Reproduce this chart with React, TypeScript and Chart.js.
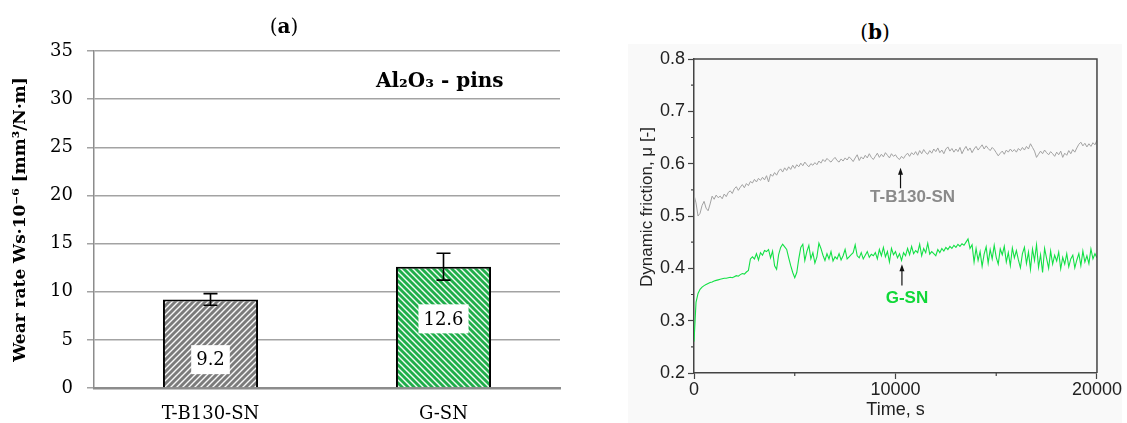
import React, { useEffect, useRef } from 'react';
import { Chart, registerables } from 'chart.js';

Chart.register(...registerables);

// ---------- Panel (a): wear rate ----------
const wearCategories = ['T-B130-SN', 'G-SN'];
const wearValues = [9.2, 12.6];
const wearErrors = [0.6, 1.4];
const wearLabelFractions = [0.32, 0.57];
const wearTitle = 'Wear rate Ws·10⁻⁶ [mm³/N·m]';
const wearNote = 'Al₂O₃ - pins';

// ---------- Panel (b): dynamic friction vs time ----------
const timeS = [
  0, 100, 200, 300, 400, 500, 600, 700, 800, 900,
  1000, 1100, 1200, 1300, 1400, 1500, 1600, 1700, 1800, 1900,
  2000, 2100, 2200, 2300, 2400, 2500, 2600, 2700, 2800, 2900,
  3000, 3100, 3200, 3300, 3400, 3500, 3600, 3700, 3800, 3900,
  4000, 4100, 4200, 4300, 4400, 4500, 4600, 4700, 4800, 4900,
  5000, 5100, 5200, 5300, 5400, 5500, 5600, 5700, 5800, 5900,
  6000, 6100, 6200, 6300, 6400, 6500, 6600, 6700, 6800, 6900,
  7000, 7100, 7200, 7300, 7400, 7500, 7600, 7700, 7800, 7900,
  8000, 8100, 8200, 8300, 8400, 8500, 8600, 8700, 8800, 8900,
  9000, 9100, 9200, 9300, 9400, 9500, 9600, 9700, 9800, 9900,
  10000, 10100, 10200, 10300, 10400, 10500, 10600, 10700, 10800, 10900,
  11000, 11100, 11200, 11300, 11400, 11500, 11600, 11700, 11800, 11900,
  12000, 12100, 12200, 12300, 12400, 12500, 12600, 12700, 12800, 12900,
  13000, 13100, 13200, 13300, 13400, 13500, 13600, 13700, 13800, 13900,
  14000, 14100, 14200, 14300, 14400, 14500, 14600, 14700, 14800, 14900,
  15000, 15100, 15200, 15300, 15400, 15500, 15600, 15700, 15800, 15900,
  16000, 16100, 16200, 16300, 16400, 16500, 16600, 16700, 16800, 16900,
  17000, 17100, 17200, 17300, 17400, 17500, 17600, 17700, 17800, 17900,
  18000, 18100, 18200, 18300, 18400, 18500, 18600, 18700, 18800, 18900,
  19000, 19100, 19200, 19300, 19400, 19500, 19600, 19700, 19800, 19900,
  20000,
];

const frictionTB130SN = [
  0.540, 0.525, 0.500, 0.505, 0.520, 0.528, 0.515, 0.510, 0.523, 0.538,
  0.532, 0.540, 0.535, 0.538, 0.533, 0.542, 0.537, 0.545, 0.548, 0.543,
  0.552, 0.556, 0.549, 0.555, 0.560, 0.554, 0.562, 0.558, 0.566, 0.563,
  0.570, 0.565, 0.572, 0.568, 0.574, 0.569, 0.577, 0.565, 0.580, 0.576,
  0.583, 0.578, 0.586, 0.590, 0.584, 0.592, 0.587, 0.594, 0.589, 0.597,
  0.591, 0.598, 0.594, 0.601, 0.596, 0.603, 0.598, 0.594, 0.600, 0.597,
  0.602, 0.598, 0.605, 0.601, 0.608, 0.604, 0.610, 0.606, 0.603, 0.608,
  0.612, 0.606, 0.603, 0.609, 0.605, 0.611, 0.607, 0.613, 0.609, 0.604,
  0.611, 0.617, 0.606, 0.613, 0.609, 0.616, 0.611, 0.619, 0.612, 0.608,
  0.614, 0.620, 0.612, 0.618, 0.613, 0.621, 0.616, 0.611, 0.619, 0.614,
  0.617, 0.611, 0.608, 0.614, 0.610, 0.616, 0.620, 0.614, 0.621, 0.617,
  0.623, 0.616, 0.625, 0.619, 0.627, 0.621, 0.618, 0.625, 0.620, 0.628,
  0.623, 0.630, 0.621, 0.626, 0.619, 0.628, 0.632, 0.624, 0.629, 0.622,
  0.628, 0.623, 0.631, 0.619, 0.627, 0.633, 0.625, 0.630, 0.621, 0.628,
  0.633, 0.626, 0.631, 0.636, 0.628, 0.634, 0.629, 0.625, 0.631, 0.627,
  0.621, 0.615, 0.620, 0.624, 0.618, 0.626, 0.622, 0.628, 0.623, 0.627,
  0.622, 0.629, 0.625, 0.631, 0.626, 0.633, 0.628, 0.638, 0.631, 0.624,
  0.612, 0.618, 0.624, 0.619, 0.626, 0.621, 0.617, 0.623, 0.619, 0.614,
  0.622, 0.617, 0.624, 0.612, 0.620, 0.616, 0.625, 0.619, 0.627, 0.622,
  0.630, 0.637, 0.641, 0.634, 0.639, 0.632, 0.638, 0.633, 0.640, 0.636,
  0.645,
];

const frictionGSN = [
  0.260, 0.335, 0.352, 0.360, 0.364, 0.367, 0.369, 0.371, 0.373, 0.374,
  0.376, 0.377, 0.378, 0.379, 0.380, 0.381, 0.381, 0.382, 0.383, 0.382,
  0.384, 0.386, 0.385, 0.388, 0.390, 0.389, 0.393, 0.396, 0.418, 0.422,
  0.418, 0.428, 0.416, 0.430, 0.425, 0.434, 0.432, 0.436, 0.420, 0.433,
  0.405, 0.398, 0.426, 0.440, 0.446, 0.441, 0.436, 0.420, 0.405, 0.392,
  0.382, 0.392, 0.418, 0.440, 0.446, 0.415, 0.432, 0.444, 0.418, 0.430,
  0.410, 0.422, 0.448, 0.438, 0.425, 0.415, 0.428, 0.418, 0.432, 0.414,
  0.422, 0.418, 0.428, 0.416, 0.424, 0.436, 0.418, 0.422, 0.426, 0.430,
  0.445, 0.424, 0.420, 0.430, 0.418, 0.425, 0.432, 0.421, 0.427, 0.424,
  0.430, 0.418, 0.436, 0.424, 0.440, 0.422, 0.432, 0.412, 0.438, 0.426,
  0.432, 0.420, 0.428, 0.415, 0.430, 0.424, 0.438, 0.426, 0.442, 0.428,
  0.434, 0.430, 0.446, 0.424, 0.438, 0.430, 0.448, 0.427, 0.432, 0.428,
  0.424, 0.436, 0.430, 0.438, 0.433, 0.440, 0.436, 0.442, 0.438, 0.444,
  0.440, 0.446, 0.442, 0.447, 0.444, 0.450, 0.456, 0.438, 0.445, 0.412,
  0.438, 0.415, 0.432, 0.404, 0.427, 0.441, 0.410, 0.436, 0.418, 0.444,
  0.421, 0.408, 0.437, 0.426, 0.442, 0.412, 0.430, 0.405, 0.439, 0.420,
  0.434, 0.416, 0.401, 0.428, 0.440, 0.409, 0.431, 0.398, 0.437, 0.415,
  0.445, 0.402, 0.426, 0.392, 0.438, 0.419, 0.400, 0.433, 0.408, 0.425,
  0.414, 0.431, 0.399, 0.421, 0.408, 0.428, 0.403, 0.418, 0.425, 0.401,
  0.416, 0.428, 0.405, 0.433, 0.412, 0.424, 0.409, 0.437, 0.418, 0.428,
  0.420,
];

const seriesNames = ['T-B130-SN', 'G-SN'];
const seriesColors = ['#a3a3a3', '#12e045'];
const labelColors = ['#8a8a8a', '#10d838'];
const frictionTitle = 'Dynamic friction, μ [-]';
// annotation anchors in data units: [arrowX, arrowFrom, arrowTo, textX, textY]
const annotations = [
  [10250, 0.553, 0.592, 10850, 0.535],
  [10320, 0.367, 0.408, 10570, 0.343],
];

function makeHatch(bg: string, dir: 1 | -1) {
  const s = 6;
  const c = document.createElement('canvas');
  c.width = s;
  c.height = s;
  const g = c.getContext('2d')!;
  g.fillStyle = bg;
  g.fillRect(0, 0, s, s);
  g.strokeStyle = 'rgba(255,255,255,0.95)';
  g.lineWidth = 1.4;
  g.beginPath();
  if (dir === 1) {
    g.moveTo(-1, s + 1); g.lineTo(s + 1, -1);
    g.moveTo(-1, 1); g.lineTo(1, -1);
    g.moveTo(s - 1, s + 1); g.lineTo(s + 1, s - 1);
  } else {
    g.moveTo(-1, -1); g.lineTo(s + 1, s + 1);
    g.moveTo(s - 1, -1); g.lineTo(s + 1, 1);
    g.moveTo(-1, s - 1); g.lineTo(1, s + 1);
  }
  g.stroke();
  return g.createPattern(c, 'repeat')!;
}

const wearDecor = {
  id: 'wearDecor',
  afterDatasetsDraw(chart: any) {
    const ctx = chart.ctx;
    const y = chart.scales.y;
    const meta = chart.getDatasetMeta(0);
    ctx.save();
    meta.data.forEach((bar: any, i: number) => {
      const v = wearValues[i];
      const e = wearErrors[i];
      const x = bar.x;
      const yt = y.getPixelForValue(v + e);
      const yb = y.getPixelForValue(v - e);
      ctx.strokeStyle = '#000';
      ctx.lineWidth = 1.6;
      ctx.beginPath();
      ctx.moveTo(x, yt); ctx.lineTo(x, yb);
      ctx.moveTo(x - 7, yt); ctx.lineTo(x + 7, yt);
      ctx.moveTo(x - 7, yb); ctx.lineTo(x + 7, yb);
      ctx.stroke();
      const ly = y.getPixelForValue(v * wearLabelFractions[i]);
      ctx.font = '18px "DejaVu Serif"';
      const txt = v.toFixed(1);
      const w = ctx.measureText(txt).width + 10;
      ctx.fillStyle = '#fff';
      ctx.fillRect(x - w / 2, ly - 14.5, w, 29);
      ctx.fillStyle = '#000';
      ctx.textAlign = 'center';
      ctx.textBaseline = 'middle';
      ctx.fillText(txt, x, ly + 1);
    });
    const a = chart.chartArea;
    ctx.font = 'bold 20px "DejaVu Serif"';
    ctx.fillStyle = '#000';
    ctx.textAlign = 'center';
    ctx.textBaseline = 'middle';
    ctx.fillText(wearNote, a.left + (a.right - a.left) * 0.742, a.top + (a.bottom - a.top) * 0.092);
    ctx.restore();
  },
};

const frictionDecor = {
  id: 'frictionDecor',
  beforeDraw(chart: any) {
    const ctx = chart.ctx;
    ctx.save();
    ctx.fillStyle = '#f9f9f9';
    ctx.fillRect(0, 0, chart.width, chart.height);
    ctx.restore();
  },
  afterDraw(chart: any) {
    const ctx = chart.ctx;
    const a = chart.chartArea;
    const xs = chart.scales.x;
    const ys = chart.scales.y;
    ctx.save();
    // frame top/right
    ctx.strokeStyle = '#444';
    ctx.lineWidth = 1.5;
    ctx.beginPath();
    ctx.moveTo(a.left, a.top); ctx.lineTo(a.right, a.top); ctx.lineTo(a.right, a.bottom);
    ctx.stroke();
    // minor ticks
    ctx.lineWidth = 1.2;
    ctx.beginPath();
    [0.25, 0.35, 0.45, 0.55, 0.65, 0.75].forEach((v) => {
      const py = ys.getPixelForValue(v);
      ctx.moveTo(a.left - 3, py); ctx.lineTo(a.left, py);
    });
    [5000, 15000].forEach((v) => {
      const px = xs.getPixelForValue(v);
      ctx.moveTo(px, a.bottom); ctx.lineTo(px, a.bottom + 3);
    });
    ctx.stroke();
    // y-axis title
    ctx.save();
    ctx.translate(19, (a.top + a.bottom) / 2 - 9);
    ctx.rotate(-Math.PI / 2);
    ctx.font = '17px "Liberation Sans"';
    ctx.fillStyle = '#222';
    ctx.textAlign = 'center';
    ctx.textBaseline = 'middle';
    ctx.fillText(frictionTitle, 0, 0);
    ctx.restore();
    // annotations
    annotations.forEach((an, i) => {
      const ax = xs.getPixelForValue(an[0]);
      const y0 = ys.getPixelForValue(an[1]);
      const y1 = ys.getPixelForValue(an[2]);
      ctx.strokeStyle = '#111';
      ctx.fillStyle = '#111';
      ctx.lineWidth = 1.2;
      ctx.beginPath();
      ctx.moveTo(ax, y0); ctx.lineTo(ax, y1 + 5);
      ctx.stroke();
      ctx.beginPath();
      ctx.moveTo(ax, y1); ctx.lineTo(ax - 2.5, y1 + 7); ctx.lineTo(ax + 2.5, y1 + 7); ctx.closePath();
      ctx.fill();
      ctx.font = 'bold 17px "Liberation Sans"';
      ctx.fillStyle = labelColors[i];
      ctx.textAlign = 'center';
      ctx.textBaseline = 'middle';
      ctx.fillText(seriesNames[i], xs.getPixelForValue(an[3]), ys.getPixelForValue(an[4]));
    });
    ctx.restore();
  },
};

export default function App() {
  const refA = useRef<HTMLCanvasElement>(null);
  const refB = useRef<HTMLCanvasElement>(null);

  useEffect(() => {
    const grayPat = makeHatch('#7b7b7b', 1);
    const greenPat = makeHatch('#1fae4a', -1);
    const serif = '"DejaVu Serif"';
    const chartA = new Chart(refA.current!, {
      type: 'bar',
      data: {
        labels: wearCategories,
        datasets: [
          {
            data: wearValues,
            backgroundColor: [grayPat, greenPat],
            borderColor: '#000',
            borderWidth: 2,
            categoryPercentage: 1,
            barPercentage: 0.408,
          },
        ],
      },
      options: {
        animation: false,
        responsive: false,
        maintainAspectRatio: false,
        layout: { padding: { top: 51, right: 10, left: 0, bottom: 0 } },
        plugins: { legend: { display: false }, tooltip: { enabled: false } },
        scales: {
          x: {
            grid: { display: false, drawTicks: false },
            border: { display: true, color: '#8c8c8c', width: 2.5 },
            ticks: { font: { family: serif, size: 18 }, color: '#000', padding: 16 },
            afterFit: (s: any) => { s.height = 35; },
          },
          y: {
            min: 0,
            max: 35,
            ticks: { stepSize: 5, font: { family: serif, size: 18 }, color: '#000', padding: 14 },
            grid: { color: '#a3a3a3', lineWidth: 1.5, tickLength: 7, drawTicks: true },
            border: { display: true, color: '#8c8c8c', width: 1.5 },
            title: {
              display: true,
              text: wearTitle,
              font: { family: serif, size: 17, weight: 'bold' },
              color: '#000',
              padding: { top: 10, bottom: 0 },
            },
            afterFit: (s: any) => { s.width = 94; },
          },
        },
      },
      plugins: [wearDecor],
    } as any);

    const sans = '"Liberation Sans"';
    const chartB = new Chart(refB.current!, {
      type: 'line',
      data: {
        datasets: [
          {
            label: seriesNames[0],
            data: timeS.map((t, i) => ({ x: t, y: frictionTB130SN[i] })),
            borderColor: seriesColors[0],
            borderWidth: 1,
            pointRadius: 0,
            tension: 0,
          },
          {
            label: seriesNames[1],
            data: timeS.map((t, i) => ({ x: t, y: frictionGSN[i] })),
            borderColor: seriesColors[1],
            borderWidth: 1.1,
            pointRadius: 0,
            tension: 0,
          },
        ],
      },
      options: {
        animation: false,
        responsive: false,
        maintainAspectRatio: false,
        layout: { padding: { top: 15, right: 24, left: 0, bottom: 0 } },
        plugins: { legend: { display: false }, tooltip: { enabled: false } },
        scales: {
          x: {
            type: 'linear',
            min: 0,
            max: 20000,
            ticks: {
              stepSize: 10000,
              font: { family: sans, size: 18 },
              color: '#222',
              padding: 0,
              maxRotation: 0,
              callback: (v: any) => String(v),
            },
            grid: { display: true, drawOnChartArea: false, drawTicks: true, tickLength: 6, tickColor: '#444', tickWidth: 1.2 },
            border: { display: true, color: '#444', width: 1.5 },
            title: {
              display: true,
              text: 'Time, s',
              font: { family: sans, size: 18 },
              color: '#222',
              padding: { top: 0, bottom: 2 },
            },
            afterFit: (s: any) => { s.height = 50; },
          },
          y: {
            min: 0.2,
            max: 0.8,
            ticks: {
              stepSize: 0.1,
              font: { family: sans, size: 18 },
              color: '#222',
              padding: 3,
              callback: (v: any) => Number(v).toFixed(1),
            },
            grid: { display: true, drawOnChartArea: false, drawTicks: true, tickLength: 6, tickColor: '#444', tickWidth: 1.2 },
            border: { display: true, color: '#444', width: 1.5 },
            afterFit: (s: any) => { s.width = 66; },
          },
        },
      },
      plugins: [frictionDecor],
    } as any);

    return () => {
      chartA.destroy();
      chartB.destroy();
    };
  }, []);

  const heading: React.CSSProperties = {
    position: 'absolute',
    transform: 'translateX(-50%)',
    fontFamily: '"DejaVu Serif", serif',
    fontSize: 20,
    lineHeight: '24px',
    color: '#000',
    whiteSpace: 'nowrap',
  };

  return (
    <div style={{ position: 'absolute', left: 0, top: 0, width: 1127, height: 423, background: '#fff', overflow: 'hidden' }}>
      <canvas ref={refA} width={570} height={423} style={{ position: 'absolute', left: 0, top: 0, width: 570, height: 423 }} />
      <canvas ref={refB} width={494} height={379} style={{ position: 'absolute', left: 628, top: 44, width: 494, height: 379 }} />
      <div style={{ ...heading, left: 284, top: 14 }}>(<b>a</b>)</div>
      <div style={{ ...heading, left: 875, top: 20 }}>(<b>b</b>)</div>
    </div>
  );
}
